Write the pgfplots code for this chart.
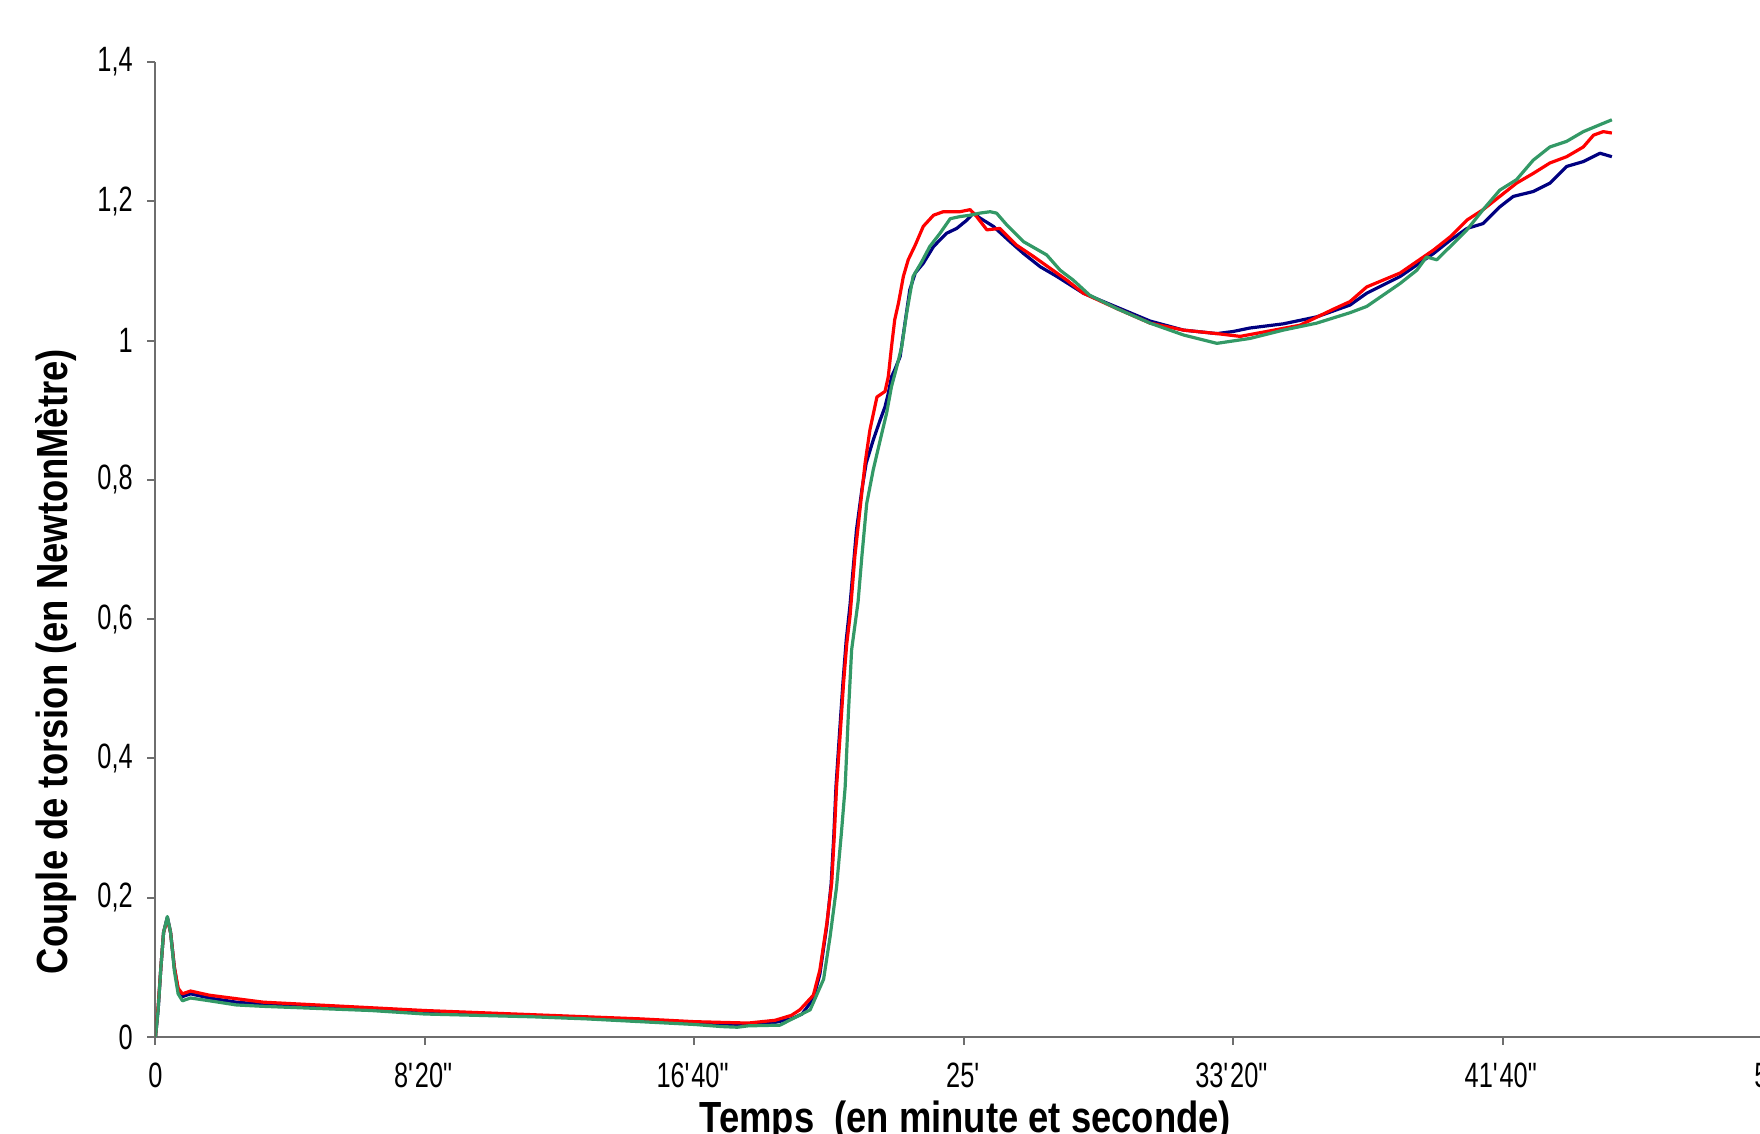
\documentclass[border=0pt]{standalone}
\usepackage{fontspec}
\setmainfont{Liberation Sans}
\newfontfamily\tickfont{Liberation Sans}[FakeStretch=0.72]
\newfontfamily\labelfont{Liberation Sans}[FakeStretch=0.835]
\usepackage{pgfplots}
\pgfplotsset{compat=1.18}
\definecolor{cblue}{RGB}{0,0,128}
\definecolor{cred}{RGB}{255,0,0}
\definecolor{cgreen}{RGB}{51,153,102}
\definecolor{axgray}{RGB}{110,110,110}
\begin{document}
\begin{tikzpicture}
\begin{axis}[
  at={(0,0)}, anchor=south west,
  scale only axis, width=404.1pt, height=243.75pt,
  xmin=0, xmax=3000, ymin=0, ymax=1.4,
  axis lines*=left,
  axis line style={draw=axgray, line width=0.5pt},
  tick align=outside,
  tick style={draw=axgray, line width=0.5pt},
  major tick length=2pt,
  xtick={0,500,1000,1500,2000,2500,3000},
  xticklabels={0,8\textquotesingle20\textquotedbl,16\textquotesingle40\textquotedbl,25\textquotesingle,33\textquotesingle20\textquotedbl,41\textquotesingle40\textquotedbl,50\textquotesingle},
  ytick={0,0.2,0.4,0.6,0.8,1,1.2,1.4},
  yticklabels={0,{0,2},{0,4},{0,6},{0,8},1,{1,2},{1,4}},
  tick label style={font=\tickfont\fontsize{8.8}{10}\selectfont, inner sep=0pt},
  xticklabel style={anchor=north, yshift=-4.25pt},
  yticklabel style={anchor=east, xshift=-3.5pt},
  xlabel={Temps\ \ (en minute et seconde)},
  ylabel={Couple de torsion (en NewtonMètre)},
  label style={font=\labelfont\bfseries\fontsize{10.9}{12}\selectfont, inner sep=0pt},
  xlabel style={at={(axis description cs:0.501,0)}, anchor=north, yshift=-15.75pt},
  ylabel style={at={([xshift=-24.9pt]axis description cs:0,0.385)}, anchor=center},
  every axis plot/.append style={line width=0.8pt, line join=round},
]
% bleu
\addplot[cblue] coordinates {
(0,0) (5,0.04) (10,0.10) (15,0.15) (22,0.172) (28,0.15) (35,0.10) (42,0.068) (50,0.058) (65,0.062) (100,0.056) (150,0.050) (200,0.047) (300,0.042) (400,0.039) (500,0.035) (600,0.032) (700,0.030) (800,0.027) (900,0.023) (1000,0.019) (1050,0.017) (1100,0.018) (1150,0.021) (1180,0.026) (1200,0.033) (1221,0.055) (1233,0.09) (1246,0.16) (1254,0.22) (1259,0.29) (1263,0.36) (1269,0.43) (1276,0.51) (1282,0.57) (1289,0.62) (1301,0.728) (1311,0.786) (1319,0.824) (1332,0.857) (1345,0.886) (1354,0.905) (1360,0.924) (1366,0.948) (1372,0.958) (1382,0.977) (1391,1.025) (1400,1.073) (1410,1.097) (1425,1.111) (1444,1.135) (1468,1.154) (1487,1.161) (1506,1.173) (1518,1.183) (1530,1.176) (1555,1.164) (1586,1.142) (1611,1.125) (1642,1.106) (1673,1.092) (1722,1.068) (1784,1.048) (1846,1.028) (1908,1.015) (1970,1.010) (2000,1.013) (2031,1.018) (2093,1.024) (2155,1.034) (2217,1.051) (2248,1.068) (2310,1.092) (2372,1.125) (2403,1.144) (2434,1.161) (2464,1.168) (2495,1.192) (2520,1.207) (2557,1.214) (2588,1.226) (2619,1.250) (2650,1.257) (2681,1.269) (2703,1.264)
};
% rouge
\addplot[cred] coordinates {
(0,0) (5,0.045) (10,0.10) (15,0.15) (22,0.17) (28,0.15) (35,0.10) (42,0.07) (50,0.062) (65,0.066) (100,0.060) (150,0.055) (200,0.050) (300,0.046) (400,0.042) (500,0.038) (600,0.035) (700,0.032) (800,0.029) (900,0.026) (1000,0.022) (1100,0.020) (1150,0.024) (1180,0.031) (1196,0.039) (1221,0.060) (1233,0.096) (1246,0.163) (1255,0.221) (1260,0.292) (1264,0.359) (1270,0.426) (1277,0.508) (1283,0.565) (1289,0.604) (1298,0.690) (1308,0.761) (1317,0.824) (1326,0.872) (1339,0.919) (1354,0.927) (1360,0.948) (1366,0.991) (1372,1.030) (1379,1.054) (1388,1.092) (1397,1.116) (1410,1.137) (1425,1.164) (1444,1.180) (1462,1.185) (1493,1.185) (1512,1.188) (1524,1.178) (1543,1.159) (1567,1.161) (1598,1.137) (1629,1.121) (1660,1.104) (1691,1.087) (1722,1.068) (1784,1.046) (1846,1.025) (1908,1.015) (1970,1.010) (2013,1.006) (2062,1.013) (2124,1.022) (2186,1.045) (2217,1.056) (2248,1.077) (2310,1.097) (2372,1.130) (2403,1.149) (2434,1.173) (2464,1.188) (2495,1.207) (2526,1.226) (2557,1.240) (2588,1.255) (2619,1.264) (2650,1.278) (2669,1.295) (2687,1.300) (2703,1.298)
};
% vert
\addplot[cgreen] coordinates {
(0,0) (5,0.04) (10,0.10) (15,0.15) (22,0.173) (28,0.15) (35,0.095) (42,0.062) (50,0.052) (65,0.056) (100,0.052) (150,0.046) (200,0.044) (300,0.041) (400,0.038) (500,0.033) (600,0.031) (700,0.029) (800,0.026) (900,0.022) (1000,0.018) (1050,0.015) (1080,0.014) (1100,0.016) (1159,0.017) (1215,0.039) (1240,0.083) (1252,0.144) (1264,0.215) (1273,0.293) (1280,0.359) (1286,0.465) (1292,0.556) (1304,0.625) (1311,0.690) (1320,0.766) (1332,0.814) (1345,0.857) (1357,0.896) (1366,0.934) (1376,0.963) (1385,0.991) (1394,1.039) (1406,1.092) (1422,1.113) (1437,1.135) (1456,1.154) (1475,1.175) (1493,1.178) (1512,1.180) (1530,1.183) (1549,1.185) (1561,1.183) (1580,1.166) (1611,1.142) (1654,1.123) (1679,1.101) (1703,1.087) (1734,1.065) (1784,1.046) (1846,1.025) (1908,1.008) (1970,0.996) (2031,1.003) (2093,1.015) (2155,1.025) (2217,1.040) (2248,1.049) (2310,1.082) (2341,1.101) (2359,1.120) (2378,1.116) (2403,1.135) (2434,1.159) (2464,1.188) (2495,1.216) (2526,1.231) (2557,1.259) (2588,1.278) (2619,1.286) (2650,1.300) (2681,1.310) (2703,1.317)
};
\end{axis}
\pgfresetboundingbox
\path[use as bounding box] (-38.875pt,-24.25pt) rectangle (401.125pt,259.25pt);
\end{tikzpicture}
\end{document}
